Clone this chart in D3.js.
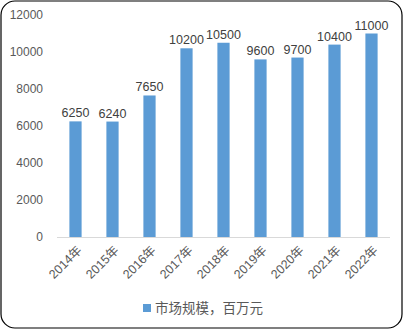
<!DOCTYPE html>
<html>
<head>
<meta charset="utf-8">
<script src="https://cdn.jsdelivr.net/npm/d3@7"></script>
<style>
  body { margin: 0; background: #fff; }
  text { font-family: "Liberation Sans", "Noto Sans CJK SC", sans-serif; }
</style>
</head>
<body>
<script>
//chart data
var years = ["2014年", "2015年", "2016年", "2017年", "2018年", "2019年", "2020年", "2021年", "2022年"];
var marketSize = [6250, 6240, 7650, 10200, 10500, 9600, 9700, 10400, 11000];
var yTicks = [0, 2000, 4000, 6000, 8000, 10000, 12000];
var seriesName = "市场规模，百万元";

var width = 404, height = 330;

var svg = d3.select("body")
    .append("svg")
    .attr("width", width)
    .attr("height", height);

//outer frame
svg.append("rect")
    .attr("x", 1)
    .attr("y", 1)
    .attr("width", 401)
    .attr("height", 327)
    .attr("rx", 14)
    .attr("fill", "#fff")
    .attr("stroke", "#000")
    .attr("stroke-width", 1.2);

var x = d3.scaleBand()
    .domain(years)
    .range([57, 390])
    .paddingInner(0.67)
    .paddingOuter(0.335);

var y = d3.scaleLinear()
    .domain([0, 12000])
    .range([237, 15]);

//y tick labels
svg.selectAll(".ytick")
    .data(yTicks)
    .enter()
    .append("text")
    .attr("class", "ytick")
    .attr("x", 43)
    .attr("y", function(d){ return y(d); })
    .attr("dy", "0.35em")
    .attr("text-anchor", "end")
    .attr("font-size", 12)
    .attr("fill", "#595959")
    .text(function(d){ return d; });

//bars
svg.selectAll(".bar")
    .data(marketSize)
    .enter()
    .append("rect")
    .attr("class", "bar")
    .attr("x", function(d, i){ return x(years[i]); })
    .attr("width", x.bandwidth())
    .attr("y", function(d){ return y(d); })
    .attr("height", function(d){ return y(0) - y(d); })
    .attr("fill", "#5B9BD5");

//baseline
svg.append("line")
    .attr("x1", 57)
    .attr("x2", 390)
    .attr("y1", y(0) + 0.5)
    .attr("y2", y(0) + 0.5)
    .attr("stroke", "#d9d9d9");

//value labels
svg.selectAll(".val")
    .data(marketSize)
    .enter()
    .append("text")
    .attr("class", "val")
    .attr("x", function(d, i){ return x(years[i]) + x.bandwidth() / 2; })
    .attr("y", function(d){ return y(d) - 4; })
    .attr("text-anchor", "middle")
    .attr("font-size", 12.5)
    .attr("fill", "#404040")
    .text(function(d){ return d; });

//rotated category labels
svg.selectAll(".xlab")
    .data(years)
    .enter()
    .append("text")
    .attr("class", "xlab")
    .attr("transform", function(d){
        return "translate(" + (x(d) + x.bandwidth() / 2 + 4) + "," + 248 + ") rotate(-45)";
    })
    .attr("text-anchor", "end")
    .attr("dy", "0.35em")
    .attr("font-size", 12.5)
    .attr("fill", "#595959")
    .text(function(d){ return d; });

//legend
svg.append("rect")
    .attr("x", 143)
    .attr("y", 304)
    .attr("width", 8)
    .attr("height", 8)
    .attr("fill", "#5B9BD5");

svg.append("text")
    .attr("x", 155)
    .attr("y", 308)
    .attr("dy", "0.35em")
    .attr("font-size", 13.5)
    .attr("fill", "#595959")
    .text(seriesName);
</script>
</body>
</html>
